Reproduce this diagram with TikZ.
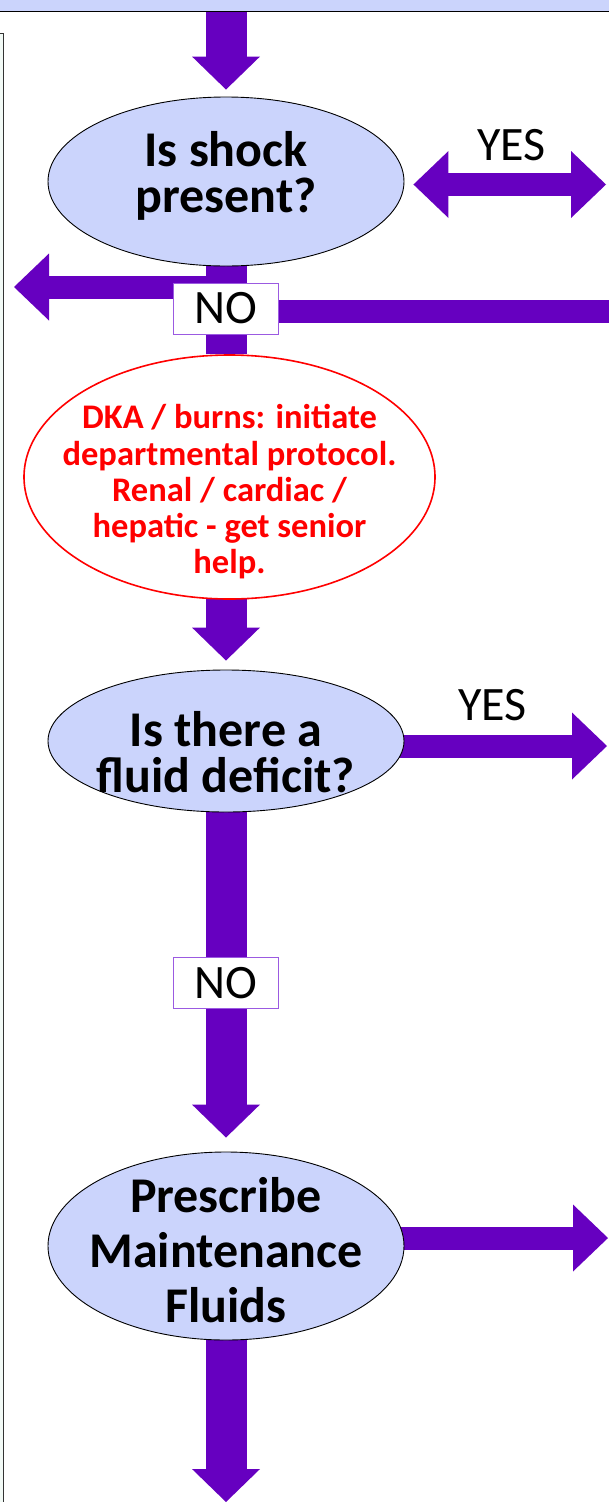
\documentclass[tikz,border=0pt]{standalone}
\usepackage{fontspec}
\setmainfont{Carlito}
\usetikzlibrary{arrows.meta,shapes.geometric,positioning,backgrounds,calc}
\definecolor{flowpurple}{RGB}{102,0,192}
\definecolor{askblue}{RGB}{203,212,252}
\definecolor{nopurple}{RGB}{155,90,225}
\definecolor{sidegreen}{RGB}{242,250,246}
% first line of a block, with extra room on top (moves the block down)
\newcommand{\padline}[2]{\raisebox{0pt}[\dimexpr\height+#1\relax]{#2}}
\tikzset{
  basic/.style    = {draw, ellipse, align=center, inner sep=0pt},
  question/.style = {basic, fill=askblue, line width=0.9pt,
                     font=\fontsize{50}{46}\selectfont\bfseries,
                     inner xsep=-20pt, inner ysep=-20pt,
                     minimum width=356pt, minimum height=169pt},
  warning/.style  = {basic, draw=red, fill=white, line width=1.6pt, text=red,
                     font=\fontsize{34.5}{36.25}\selectfont\bfseries,
                     inner xsep=-30pt, inner ysep=-25pt,
                     minimum width=411pt, minimum height=244pt},
  answer/.style   = {draw=nopurple, fill=white, line width=0.8pt,
                     font=\fontsize{48}{48}\selectfont,
                     minimum width=105pt, minimum height=51pt, inner sep=0pt},
  tag/.style      = {font=\fontsize{48}{48}\selectfont, inner sep=0pt, outer sep=0pt},
  trunk/.style    = {draw=flowpurple, line width=41pt},
  down/.style     = {trunk, -{Triangle[width=68pt,length=33pt,line width=0pt]}},
  branch/.style   = {draw=flowpurple, line width=23pt},
  exit/.style     = {branch, -{Triangle[width=67pt,length=35pt,line width=0pt]}},
  twoway/.style   = {branch, {Triangle[width=67pt,length=35pt,line width=0pt]}-{Triangle[width=67pt,length=35pt,line width=0pt]}}
}
\begin{document}
\begin{tikzpicture}
\useasboundingbox (0,0) rectangle (608pt,-1502pt);

% banda superior y margen izquierdo
\node[draw, line width=1.2pt, fill=askblue, minimum width=614pt, minimum height=12.5pt,
      inner sep=0pt, anchor=north] (band) at (304pt,2pt) {};
\node[draw=black!80, line width=1pt, fill=sidegreen, minimum width=14pt, minimum height=1490pt,
      inner sep=0pt, anchor=north east] (sidebar) at (4pt,-33pt) {};

% The questions, one below the other
\node[question] (q1) at (226pt,-181.5pt) {\padline{-11pt}{Is shock}\\present?};
\node[warning, below of = q1, node distance=295.5pt, xshift=3.5pt] (w1)
  {\padline{30pt}{DKA / burns: initiate}\\departmental protocol.\\Renal / cardiac /\\hepatic - get senior\\help.};
\node[question, below of = w1, node distance=264pt, xshift=-3.5pt,
      minimum height=142pt] (q2) {\padline{23pt}{Is there a}\\fluid deficit?};
\node[question, below of = q2, node distance=505pt, minimum height=188pt,
      font=\fontsize{50}{55}\selectfont\bfseries] (q3)
  {\padline{9pt}{Prescribe}\\Maintenance\\Fluids};

% NO answers on the trunk
\node[answer, below of = q1, node distance=127pt] (no1) {NO};
\node[answer, below of = q2, node distance=242pt] (no2) {NO};

\coordinate (left exit)  at (14pt,-287pt);
\coordinate (right exit) at (612pt,-311.5pt);
\coordinate (shock exit) at (606pt,-184.5pt);
\coordinate (fluid exit) at (607pt,-746pt);
\coordinate (maint exit) at (608pt,-1238pt);
\coordinate (bottom)     at (226pt,-1502pt);

\begin{pgfonlayer}{background}
\draw[down] (band.south -| q1) -- ([yshift=7pt]q1.north);
\draw[trunk] (q1) -- (q1 |- w1.north);
\draw[down] (q1 |- w1) -- ([yshift=9pt]q2.north);
\draw[down] (q2) -- ([yshift=14pt]q3.north);
\draw[down] (q3) -- (bottom);

\draw[exit] (q1 |- left exit) -- (left exit);
\draw[branch] (q1 |- right exit) -- (right exit);
\draw[twoway] ($(q1.east |- shock exit)+(9pt,0)$) -- node[tag, pos=0.51, above=23.5pt] {YES} (shock exit);
\draw[exit] (q2 |- fluid exit) -- node[tag, pos=0.70, above=25pt] {YES} (fluid exit);
\draw[exit] (q3 |- maint exit) -- (maint exit);
\end{pgfonlayer}
\end{tikzpicture}
\end{document}
